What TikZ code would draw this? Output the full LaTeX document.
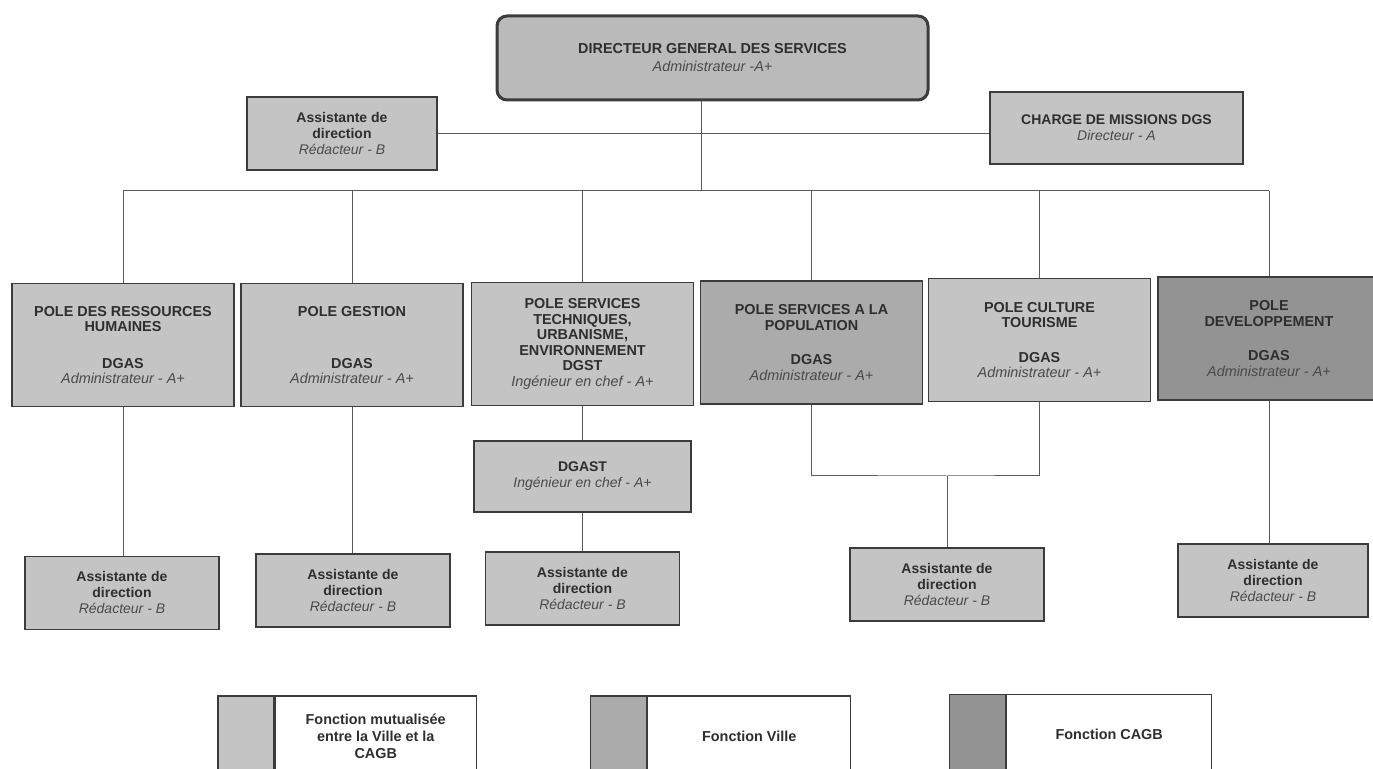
\documentclass[tikz,border=0pt]{standalone}
\usepackage{fontspec}
\setmainfont{Liberation Sans}
\usetikzlibrary{positioning}
\definecolor{mutu}{HTML}{C4C4C4}
\definecolor{ville}{HTML}{ABABAB}
\definecolor{cagb}{HTML}{939393}
\definecolor{edge}{HTML}{3C3C3C}
\definecolor{wire}{HTML}{5A5A5A}
\definecolor{ink}{HTML}{2E2E2E}
\definecolor{soft}{HTML}{4A4A4A}
\def\busy{191}
\def\joiny{476}
\newcommand{\rang}[1]{{\normalfont\itshape\color{soft}#1}}

\begin{document}
\begin{tikzpicture}[x=0.5pt, y=-0.5pt,
    polebox/.style={draw=edge, line width=0.75pt, fill=mutu, inner sep=0pt, align=center, text=ink,
        font=\fontsize{7.2}{7.8}\selectfont\bfseries, minimum width=111pt, minimum height=61.5pt},
    asstbox/.style={polebox, minimum width=97pt, minimum height=36.5pt, font=\fontsize{7}{8}\selectfont\bfseries},
    keybox/.style={draw=edge, line width=0.6pt, minimum width=28pt, minimum height=40pt, inner sep=0pt},
    keytext/.style={keybox, fill=white, align=center, text=ink, font=\fontsize{7.2}{8.5}\selectfont\bfseries},
    branch/.style={draw=wire, line width=0.5pt}]
    \useasboundingbox (0,0) rectangle (1373,769);

    % Direction générale.
    \node[polebox, rounded corners=5pt, line width=1.5pt, fill=mutu!95!black, minimum width=215.5pt, minimum height=42pt,
        font=\fontsize{7.2}{9}\selectfont\bfseries] (dgs) at (712.5,58) {DIRECTEUR GENERAL DES SERVICES\\\rang{Administrateur -A+}};
    \node[asstbox, minimum width=95pt] (asst) at (342,133.5) {Assistante de\\direction\\\rang{Rédacteur - B}};
    \node[asstbox, minimum width=126.5pt, minimum height=36pt] (charge) at (1116.5,128) {CHARGE DE MISSIONS DGS\\\rang{Directeur - A}};

    % Les six pôles.
    \node[polebox] (pole1) at (123,345) {POLE DES RESSOURCES\\HUMAINES\\[10.5pt]DGAS\\\rang{Administrateur - A+}};
    \node[polebox] (pole2) at (352,345) {POLE GESTION\\[18.3pt]DGAS\\\rang{Administrateur - A+}};
    \node[polebox] (pole3) at (582.5,344) {POLE SERVICES\\TECHNIQUES,\\URBANISME,\\ENVIRONNEMENT\\DGST\\\rang{Ingénieur en chef - A+}};
    \node[polebox, fill=ville] (pole4) at (811.5,342.5) {POLE SERVICES A LA\\POPULATION\\[9.5pt]DGAS\\\rang{Administrateur - A+}};
    \node[polebox] (pole5) at (1039.5,340) {POLE CULTURE\\TOURISME\\[9.5pt]DGAS\\\rang{Administrateur - A+}};
    \node[polebox, fill=cagb] (pole6) at (1269,338.5) {POLE\\DEVELOPPEMENT\\[9.5pt]DGAS\\\rang{Administrateur - A+}};

    % Adjoint technique et assistantes.
    \node[asstbox, minimum width=108.5pt, minimum height=35.5pt] (dgast) at (582.5,476.5) {DGAST\\\rang{Ingénieur en chef - A+}};
    \node[asstbox] (sec1) at (122,593) {Assistante de\\direction\\\rang{Rédacteur - B}};
    \node[asstbox] (sec2) at (353,590.5) {Assistante de\\direction\\\rang{Rédacteur - B}};
    \node[asstbox] (sec3) at (582.5,588.5) {Assistante de\\direction\\\rang{Rédacteur - B}};
    \node[asstbox] (sec4) at (947,584.5) {Assistante de\\direction\\\rang{Rédacteur - B}};
    \node[asstbox, minimum width=95pt] (sec5) at (1273,580.5) {Assistante de\\direction\\\rang{Rédacteur - B}};

    % Liaisons.
    \coordinate (bus) at (701,\busy);
    \coordinate (join) at (947,\joiny);
    \draw[branch] (asst.east) -- (asst.east -| charge.west);
    \draw[branch] (bus |- dgs.south) -- (bus);
    \draw[branch] (pole1.north |- bus) -- (pole6.north |- bus);
    \foreach \i in {1,...,6} {
            \draw[branch] (pole\i.north) -- (pole\i.north |- bus);
        }
    \draw[branch] (pole1.south) -- (pole1.south |- sec1.north);
    \draw[branch] (pole2.south) -- (pole2.south |- sec2.north);
    \draw[branch] (pole3.south) -- (dgast.north);
    \draw[branch] (dgast.south) -- (sec3.north);
    \draw[branch] (pole4.south) |- (join) -| (pole5.south);
    \draw[branch] (join) -- (sec4.north);
    \draw[branch] (pole6.south) -- (pole6.south |- sec5.north);

    % Légende.
    \node[keybox, fill=mutu] (key1) at (246,736) {};
    \node[keytext, right=0pt of key1, minimum width=100.5pt] (lab1) {Fonction mutualisée\\entre la Ville et la\\CAGB};
    \node[keybox, fill=ville] (key2) at (618.5,736) {};
    \node[keytext, right=0pt of key2, minimum width=101.5pt] (lab2) {Fonction Ville};
    \node[keybox, fill=cagb] (key3) at (977.5,734.5) {};
    \node[keytext, right=0pt of key3, minimum width=102.5pt] (lab3) {Fonction CAGB};
\end{tikzpicture}
\end{document}
